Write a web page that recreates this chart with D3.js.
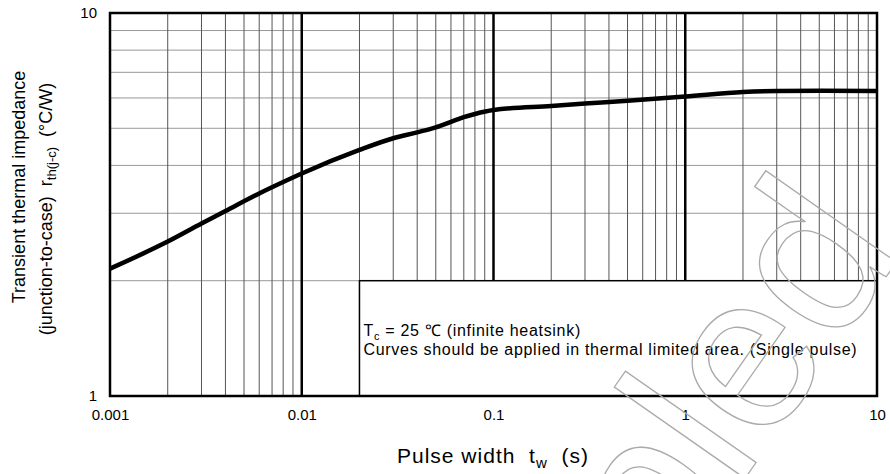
<!DOCTYPE html>
<html>
<head>
<meta charset="utf-8">
<script src="https://cdn.jsdelivr.net/npm/d3@7/dist/d3.min.js"></script>
<style>
  body { margin: 0; background: #fff; }
  svg { display: block; font-family: "Liberation Sans", Arial, sans-serif; }
  text { white-space: pre; }
</style>
</head>
<body>
<div id="chart"></div>
<script>
// pulse width (s) and transient thermal impedance (degC/W)
var pulseWidth = [0.001, 0.002, 0.003, 0.004, 0.006, 0.008, 0.01, 0.02, 0.03, 0.04, 0.05,
                  0.06, 0.07, 0.08, 0.1, 0.2, 0.3, 0.5, 1, 2, 3, 5, 10];
var rth = [2.15, 2.53, 2.82, 3.04, 3.38, 3.62, 3.81, 4.39, 4.71, 4.88, 5.03,
           5.20, 5.35, 5.45, 5.58, 5.72, 5.80, 5.90, 6.05, 6.22, 6.26, 6.27, 6.26];

var xTicks = [0.001, 0.01, 0.1, 1, 10];
var xTickLabels = ["0.001", "0.01", "0.1", "1", "10"];
var yTicks = [1, 10];
var yTickLabels = ["1", "10"];

// note box corners (data units)
var noteX = [0.02, 10];
var noteY = [1, 2];
var noteLines = ["= 25 \u2103 (infinite heatsink)",
                 "Curves should be applied in thermal limited area. (Single pulse)"];

var width = 890;
var height = 474;

var margin = ({
    top: 13,
    right: 13,
    bottom: 78,
    left: 110
})

var svg = d3.select("#chart")
    .append("svg")
    .attr("width", width)
    .attr("height", height)

var x = d3.scaleLog()
    .domain([0.001, 10])
    .range([margin.left, width - margin.right]);

var y = d3.scaleLog()
    .domain([1, 10])
    .range([height - margin.bottom, margin.top]);

// minor grid: 2..9 in each decade
var minorX = [];
[0.001, 0.01, 0.1, 1].forEach(function(d) {
    for (var k = 2; k <= 9; k++) minorX.push(d * k);
});
var minorY = [];
for (var k = 2; k <= 9; k++) minorY.push(k);

svg.append("g")
    .selectAll("line")
    .data(minorY)
    .enter().append("line")
        .attr("x1", x(0.001))
        .attr("x2", x(10))
        .attr("y1", d => y(d))
        .attr("y2", d => y(d))
        .attr("stroke", "#999")
        .attr("stroke-width", 1)

svg.append("g")
    .selectAll("line")
    .data(minorX)
    .enter().append("line")
        .attr("x1", d => x(d))
        .attr("x2", d => x(d))
        .attr("y1", y(1))
        .attr("y2", y(10))
        .attr("stroke", "#555")
        .attr("stroke-width", 1)

// decade lines
svg.append("g")
    .selectAll("line")
    .data([0.01, 0.1, 1])
    .enter().append("line")
        .attr("x1", d => x(d))
        .attr("x2", d => x(d))
        .attr("y1", y(1))
        .attr("y2", y(10))
        .attr("stroke", "#000")
        .attr("stroke-width", 2.5)

// note box covers the grid
svg.append("rect")
    .attr("x", x(noteX[0]))
    .attr("y", y(noteY[1]))
    .attr("width", x(noteX[1]) - x(noteX[0]))
    .attr("height", y(noteY[0]) - y(noteY[1]))
    .attr("fill", "#fff")
    .attr("stroke", "#000")
    .attr("stroke-width", 1.5)

var note = svg.append("g")
    .attr("font-size", 16)
    .attr("letter-spacing", 0.7)
    .attr("fill", "#000")

var t1 = note.append("text")
    .attr("x", x(noteX[0]) + 4)
    .attr("y", 336)
t1.append("tspan").text("T");
t1.append("tspan").attr("font-size", 11).attr("dy", 4).text("c");
t1.append("tspan").attr("dy", -4).text(" " + noteLines[0]);

note.append("text")
    .attr("x", x(noteX[0]) + 4)
    .attr("y", 355)
    .text(noteLines[1])

// frame
svg.append("rect")
    .attr("x", x(0.001))
    .attr("y", y(10))
    .attr("width", x(10) - x(0.001))
    .attr("height", y(1) - y(10))
    .attr("fill", "none")
    .attr("stroke", "#000")
    .attr("stroke-width", 2.5)

// curve
var line = d3.line()
    .x(d => x(d[0]))
    .y(d => y(d[1]))
    .curve(d3.curveMonotoneX)

svg.append("path")
    .datum(pulseWidth.map((d, i) => [d, rth[i]]))
    .attr("d", line)
    .attr("fill", "none")
    .attr("stroke", "#000")
    .attr("stroke-width", 4.5)
    .attr("stroke-linejoin", "round")

// axes
var xAxis = g => g
    .attr("transform", `translate(0, ${y(1)})`)
    .call(d3.axisBottom(x).tickValues(xTicks)
        .tickFormat((d, i) => xTickLabels[i]).tickSize(0).tickPadding(13))
    .call(g => g.select(".domain").remove())
    .call(g => g.selectAll("text").attr("font-size", 15).attr("fill", "#000")
        .attr("font-family", "Liberation Sans, Arial, sans-serif"))

var yAxis = g => g
    .attr("transform", `translate(${x(0.001)}, 0)`)
    .call(d3.axisLeft(y).tickValues(yTicks)
        .tickFormat((d, i) => yTickLabels[i]).tickSize(0).tickPadding(13))
    .call(g => g.select(".domain").remove())
    .call(g => g.selectAll("text").attr("font-size", 15).attr("fill", "#000")
        .attr("font-family", "Liberation Sans, Arial, sans-serif"))

svg.append("g").call(xAxis);
svg.append("g").call(yAxis);

// axis titles
var xLabel = svg.append("text")
    .attr("x", 397)
    .attr("y", 463)
    .attr("font-size", 21)
    .attr("letter-spacing", 1)
xLabel.append("tspan").text("Pulse width  t");
xLabel.append("tspan").attr("font-size", 15).attr("dy", 5).text("w");
xLabel.append("tspan").attr("dy", -5).text("  (s)");

svg.append("text")
    .attr("transform", "translate(25, 187) rotate(-90)")
    .attr("font-size", 18)
    .attr("text-anchor", "middle")
    .text("Transient thermal impedance")

var yLabel2 = svg.append("text")
    .attr("transform", "translate(52, 209) rotate(-90)")
    .attr("font-size", 18)
    .attr("text-anchor", "middle")
yLabel2.append("tspan").text("(junction-to-case)  r");
yLabel2.append("tspan").attr("font-size", 13).attr("dy", 4).text("th(j-c)");
yLabel2.append("tspan").attr("dy", -4).text("  (\u00B0C/W)");

// outlined watermark
svg.append("text")
    .attr("transform", "translate(905, 250) rotate(-55)")
    .attr("font-size", 220)
    .attr("text-anchor", "end")
    .attr("fill", "none")
    .attr("stroke", "#aaa")
    .attr("stroke-width", 1.3)
    .text("Sampled")
</script>
</body>
</html>
